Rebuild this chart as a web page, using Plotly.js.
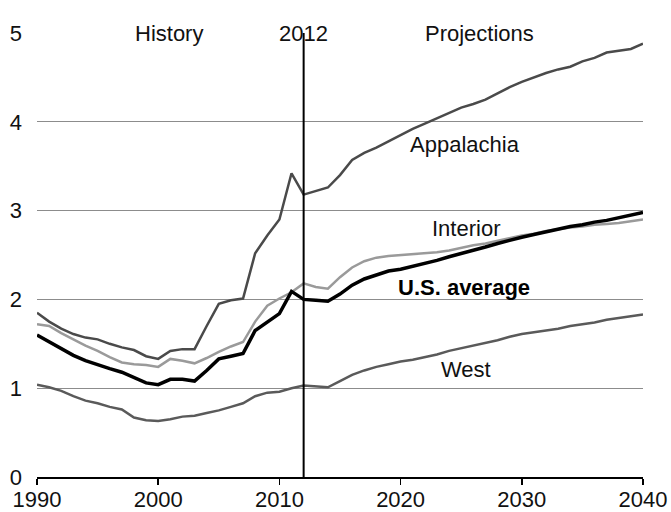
<!DOCTYPE html>
<html>
<head>
<meta charset="utf-8">
<script src="https://cdn.plot.ly/plotly-3.0.1.min.js"></script>
<style>html,body{margin:0;padding:0;background:#fff;}#chart{width:671px;height:512px;}</style>
</head>
<body>
<div id="chart"></div>
<script>
const years = [];
for (let y = 1990; y <= 2040; y++) years.push(y);

const appalachia = [1.85,1.75,1.67,1.61,1.57,1.55,1.50,1.46,1.43,1.36,1.33,1.42,1.44,1.44,1.70,1.95,1.99,2.01,2.52,2.72,2.90,3.42,3.18,3.22,3.26,3.40,3.57,3.65,3.71,3.78,3.85,3.92,3.98,4.04,4.10,4.16,4.20,4.25,4.32,4.39,4.45,4.50,4.55,4.59,4.62,4.68,4.72,4.78,4.80,4.82,4.88];
const interior = [1.72,1.70,1.62,1.55,1.48,1.42,1.35,1.29,1.27,1.26,1.24,1.33,1.31,1.28,1.34,1.41,1.47,1.52,1.75,1.93,2.01,2.08,2.18,2.14,2.12,2.25,2.36,2.43,2.47,2.49,2.50,2.51,2.52,2.53,2.55,2.58,2.61,2.63,2.66,2.69,2.72,2.74,2.77,2.79,2.81,2.82,2.84,2.85,2.86,2.88,2.90];
const usAverage = [1.60,1.52,1.44,1.37,1.31,1.26,1.22,1.18,1.12,1.06,1.04,1.10,1.10,1.08,1.20,1.33,1.36,1.39,1.65,1.75,1.84,2.09,2.00,1.99,1.98,2.06,2.16,2.23,2.28,2.32,2.34,2.37,2.41,2.44,2.48,2.52,2.55,2.59,2.63,2.67,2.70,2.73,2.76,2.79,2.82,2.84,2.87,2.89,2.92,2.95,2.98];
const west = [1.04,1.01,0.97,0.91,0.86,0.83,0.79,0.76,0.67,0.64,0.63,0.65,0.68,0.69,0.72,0.75,0.79,0.83,0.91,0.95,0.96,1.00,1.03,1.02,1.01,1.08,1.15,1.20,1.24,1.27,1.30,1.32,1.35,1.38,1.42,1.45,1.48,1.51,1.54,1.58,1.61,1.63,1.65,1.67,1.70,1.72,1.74,1.77,1.79,1.81,1.83];

const seriesNames = ["Appalachia", "Interior", "U.S. average", "West"];
const xTickVals = [1990, 2000, 2010, 2020, 2030, 2040];
const yTickVals = [0, 1, 2, 3, 4, 5];
const splitYear = 2012;
const headerLabels = ["History", "2012", "Projections"];

const FONT = "Liberation Sans, Arial, sans-serif";

const traces = [
  {x: years, y: west, name: seriesNames[3], mode: "lines", line: {color: "#5a5a5a", width: 2.5}},
  {x: years, y: interior, name: seriesNames[1], mode: "lines", line: {color: "#9a9a9a", width: 2.5}},
  {x: years, y: usAverage, name: seriesNames[2], mode: "lines", line: {color: "#000000", width: 3.5}},
  {x: years, y: appalachia, name: seriesNames[0], mode: "lines", line: {color: "#4a4a4a", width: 2.5}}
];

const layout = {
  width: 671, height: 512,
  margin: {l: 37, r: 28, t: 33, b: 35},
  paper_bgcolor: "#fff", plot_bgcolor: "#fff",
  showlegend: false,
  font: {family: FONT, size: 22, color: "#111"},
  xaxis: {
    range: [1990, 2040], tickvals: xTickVals, ticktext: xTickVals.map(String),
    showgrid: false, zeroline: false, showline: true, linecolor: "#000", linewidth: 1.5,
    ticks: "outside", ticklen: 6, tickwidth: 1.5, tickcolor: "#000",
    ticklabelstandoff: -4,
    tickfont: {family: FONT, size: 22, color: "#111"}
  },
  yaxis: {
    range: [0, 5], tickvals: yTickVals, ticktext: yTickVals.map(String),
    showgrid: true, gridcolor: "#8c8c8c", gridwidth: 1,
    zeroline: false, showline: false, ticks: "",
    ticklabelstandoff: 14,
    tickfont: {family: FONT, size: 22, color: "#111"}
  },
  shapes: [
    {type: "line", xref: "x", yref: "paper", x0: splitYear, x1: splitYear, y0: 0, y1: 1, line: {color: "#000", width: 2}}
  ],
  annotations: [
    {xref: "x", yref: "paper", x: 2000.9, y: 1.0, yshift: 14, text: headerLabels[0], showarrow: false, font: {family: FONT, size: 22, color: "#111"}},
    {xref: "x", yref: "paper", x: splitYear, y: 1.0, yshift: 14, text: headerLabels[1], showarrow: false, font: {family: FONT, size: 22, color: "#111"}},
    {xref: "x", yref: "paper", x: 2026.5, y: 1.0, yshift: 14, text: headerLabels[2], showarrow: false, font: {family: FONT, size: 22, color: "#111"}},
    {xref: "x", yref: "y", x: 2025.3, y: 3.75, text: seriesNames[0], showarrow: false, font: {family: FONT, size: 22, color: "#111"}},
    {xref: "x", yref: "y", x: 2025.4, y: 2.80, text: seriesNames[1], showarrow: false, font: {family: FONT, size: 22, color: "#111"}},
    {xref: "x", yref: "y", x: 2025.2, y: 2.13, text: "<b>" + seriesNames[2] + "</b>", showarrow: false, font: {family: FONT, size: 22, color: "#000"}},
    {xref: "x", yref: "y", x: 2025.4, y: 1.215, text: seriesNames[3], showarrow: false, font: {family: FONT, size: 22, color: "#111"}}
  ]
};

Plotly.newPlot("chart", traces, layout, {staticPlot: true, displayModeBar: false});
</script>
</body>
</html>
